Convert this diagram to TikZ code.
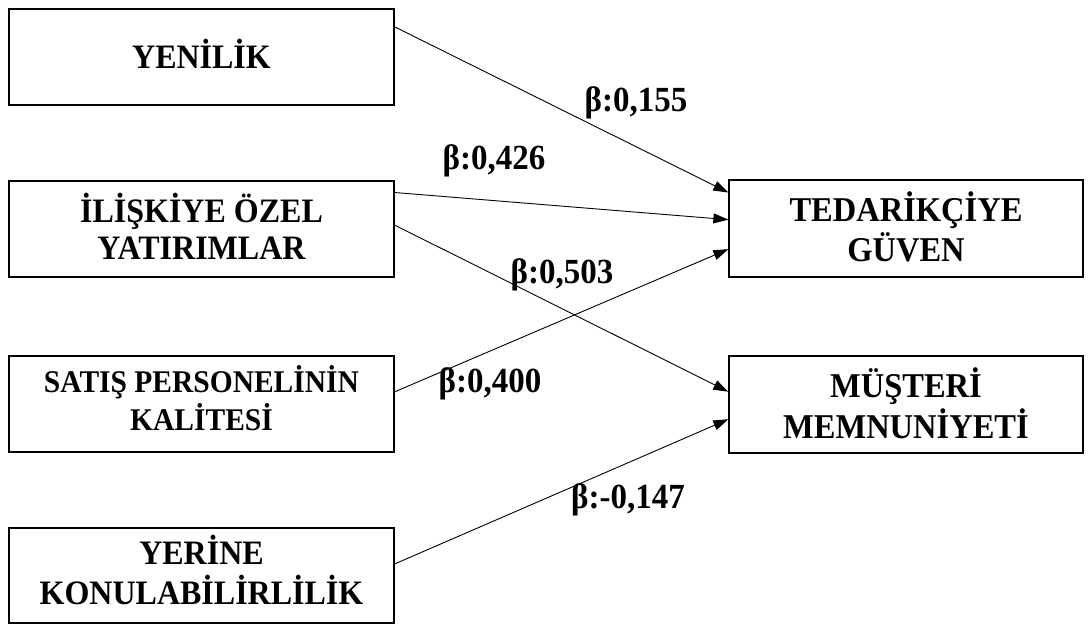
\documentclass[tikz,border=0pt]{standalone}
\usepackage{fontspec}
\usepackage{graphicx}
\setmainfont{Liberation Serif}
\usetikzlibrary{calc,arrows.meta}
% slightly tall centred text block, optionally lowered inside its box
\newcommand\talltext[2][0pt]{\raisebox{-#1}[\height][\depth]{\scalebox{1}[1.07]{\begin{tabular}{@{}c@{}}#2\end{tabular}}}}
\begin{document}
\begin{tikzpicture}[x=1pt,y=-1pt,
  box/.style={draw,line width=1.3pt,rectangle,inner sep=0pt,align=center,
    font=\fontsize{32}{34.5}\selectfont\bfseries},
  srcbox/.style={box,minimum width=385pt,minimum height=96pt},
  dstbox/.style={box,minimum width=354pt,minimum height=97pt,
    font=\fontsize{32.5}{34.5}\selectfont\bfseries},
  link/.style={line width=0.9pt,-{Triangle[length=15pt,width=10pt]}},
  coef/.style={inner sep=0pt,font=\fontsize{33}{37}\selectfont\bfseries}]
\useasboundingbox (0,0) rectangle (1089,626);
\fill[white] (0,0) rectangle (1089,626);

% independent variables
\node[srcbox] (yen) at (201.5,57) {\talltext[2pt]{YENİLİK}};
\node[srcbox] (ili) at (201.5,229) {\talltext[3pt]{İLİŞKİYE ÖZEL\\YATIRIMLAR}};
\node[srcbox,font=\fontsize{29.5}{33}\selectfont\bfseries] (sat) at (201.5,404) {\talltext[-1pt]{SATIŞ PERSONELİNİN\\KALİTESİ}};
\node[srcbox,minimum height=95pt] (yer) at (201.5,575.5) {\talltext{YERİNE\\KONULABİLİRLİLİK}};

% dependent variables
\node[dstbox] (ted) at (906,228.5) {\talltext[4pt]{TEDARİKÇİYE\\GÜVEN}};
\node[dstbox] (mus) at (906,404.5) {\talltext[4pt]{MÜŞTERİ\\MEMNUNİYETİ}};

% paths
\draw[link] ($(yen.north east)!0.19!(yen.south east)$) -- ($(ted.north west)!0.134!(ted.south west)$);
\draw[link] ($(ili.north east)!0.125!(ili.south east)$) -- ($(ted.north west)!0.41!(ted.south west)$);
\draw[link] ($(ili.north east)!0.46!(ili.south east)$) -- ($(mus.north west)!0.37!(mus.south west)$);
\draw[link] ($(sat.north east)!0.375!(sat.south east)$) -- ($(ted.north west)!0.71!(ted.south west)$);
\draw[link] ($(yer.north east)!0.38!(yer.south east)$) -- ($(mus.north west)!0.65!(mus.south west)$);

% coefficients
\node[coef] (b1) at (636,104) {\talltext{β:0,155}};
\node[coef] (b2) at (494,162) {\talltext{β:0,426}};
\node[coef] (b3) at (562,276) {\talltext{β:0,503}};
\node[coef] (b4) at (490,385) {\talltext{β:0,400}};
\node[coef] (b5) at (628,501) {\talltext{β:-0,147}};
\end{tikzpicture}
\end{document}
